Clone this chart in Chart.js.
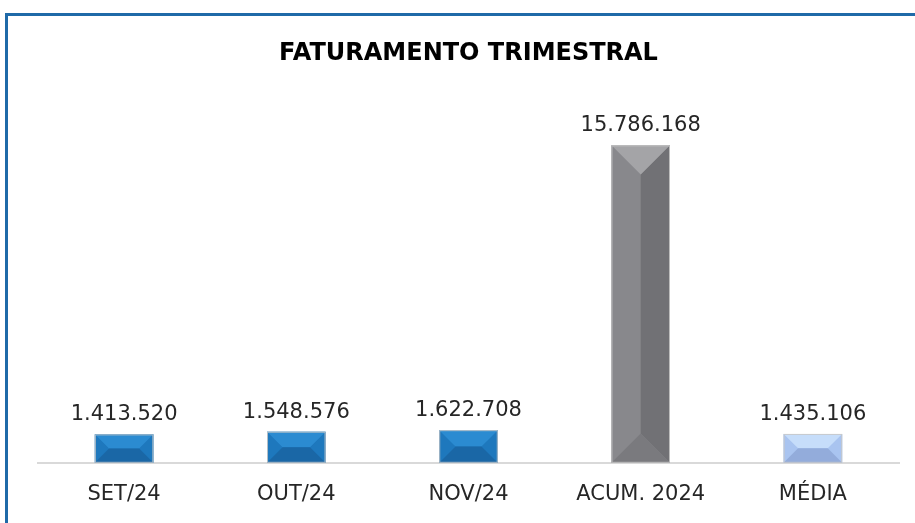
<!DOCTYPE html>
<html>
<head>
<meta charset="utf-8">
<script src="https://cdn.jsdelivr.net/npm/chart.js@4"></script>
<style>
  html, body { margin: 0; padding: 0; background: #fff; overflow: hidden; }
  #frame { position: absolute; left: 5px; top: 13px; width: 1000px; height: 600px;
           border-left: 3px solid #1f6aa8; border-top: 3px solid #1f6aa8; }
  #wrap { position: absolute; left: 0; top: 0; width: 915px; height: 538px; }
</style>
</head>
<body>
<div id="frame"></div>
<div id="wrap"><canvas id="chart"></canvas></div>
<script>
// chart data
const categories = ['SET/24', 'OUT/24', 'NOV/24', 'ACUM. 2024', 'MÉDIA'];
const faturamento = [1413520, 1548576, 1622708, 15786168, 1435106];
const titleText = 'FATURAMENTO TRIMESTRAL';

// bevel colours per bar: [top, left, right, bottom]
const blueBevel = ['#2b8bd1', '#1e78bd', '#1e78bd', '#1a67a6'];
const grayBevel = ['#a4a4a7', '#88888c', '#717175', '#7a7a7e'];
const lightBevel = ['#c6ddfa', '#a9c4f0', '#a9c4f0', '#93acdb'];
const bevels = [blueBevel, blueBevel, blueBevel, grayBevel, lightBevel];

const fmt = v => v.toLocaleString('de-DE');
const FONT = '"DejaVu Sans", sans-serif';

// draws the faceted bar look on top of each bar
const bevelPlugin = {
  id: 'bevel',
  afterDatasetsDraw(chart) {
    const ctx = chart.ctx;
    chart.getDatasetMeta(0).data.forEach((bar, i) => {
      const x0 = bar.x - bar.width / 2, x1 = bar.x + bar.width / 2;
      const top = bar.y, bot = bar.base;
      const h = bot - top;
      const d = Math.min(bar.width / 2, h / 2);
      const c = bevels[i];
      const poly = (pts, col) => {
        ctx.beginPath();
        ctx.moveTo(pts[0][0], pts[0][1]);
        pts.slice(1).forEach(p => ctx.lineTo(p[0], p[1]));
        ctx.closePath();
        ctx.fillStyle = col;
        ctx.fill();
      };
      ctx.save();
      poly([[x0, top], [x0 + d, top + d], [x0 + d, bot - d], [x0, bot]], c[1]);
      poly([[x1, top], [x1 - d, top + d], [x1 - d, bot - d], [x1, bot]], c[2]);
      poly([[x0 + d, top + d], [x1 - d, top + d], [x1 - d, bot - d], [x0 + d, bot - d]], c[2]);
      poly([[x0, top], [x1, top], [x1 - d, top + d], [x0 + d, top + d]], c[0]);
      poly([[x0, bot], [x1, bot], [x1 - d, bot - d], [x0 + d, bot - d]], c[3]);
      ctx.strokeStyle = 'rgba(200,200,200,0.9)';
      ctx.lineWidth = 1;
      ctx.strokeRect(x0 + 0.5, top + 0.5, bar.width - 1, h - 1);
      ctx.restore();
    });
  }
};

// value labels above each bar
const valuePlugin = {
  id: 'values',
  afterDatasetsDraw(chart) {
    const ctx = chart.ctx;
    ctx.save();
    ctx.font = '21px ' + FONT;
    ctx.fillStyle = '#262626';
    ctx.textAlign = 'center';
    ctx.textBaseline = 'bottom';
    chart.getDatasetMeta(0).data.forEach((bar, i) => {
      ctx.fillText(fmt(faturamento[i]), bar.x, bar.y - 9);
    });
    ctx.restore();
  }
};

new Chart(document.getElementById('chart'), {
  type: 'bar',
  data: {
    labels: categories,
    datasets: [{
      data: faturamento,
      backgroundColor: bevels.map(b => b[1]),
      borderWidth: 0,
      barPercentage: 0.34,
      categoryPercentage: 1
    }]
  },
  options: {
    responsive: true,
    maintainAspectRatio: false,
    animation: false,
    layout: { padding: { left: 38, right: 16, top: 0, bottom: 12 } },
    plugins: {
      legend: { display: false },
      tooltip: { enabled: false },
      title: {
        display: true,
        text: titleText,
        color: '#000',
        font: { family: FONT, size: 24, weight: 'bold' },
        padding: { top: 39, bottom: 33 }
      }
    },
    scales: {
      x: {
        grid: { display: false, drawTicks: false },
        border: { display: true, color: '#d9d9d9', width: 2 },
        ticks: { color: '#262626', padding: 19, font: { family: FONT, size: 21 } }
      },
      y: {
        display: false,
        min: 0,
        max: 18000000
      }
    }
  },
  plugins: [bevelPlugin, valuePlugin]
});
</script>
</body>
</html>
